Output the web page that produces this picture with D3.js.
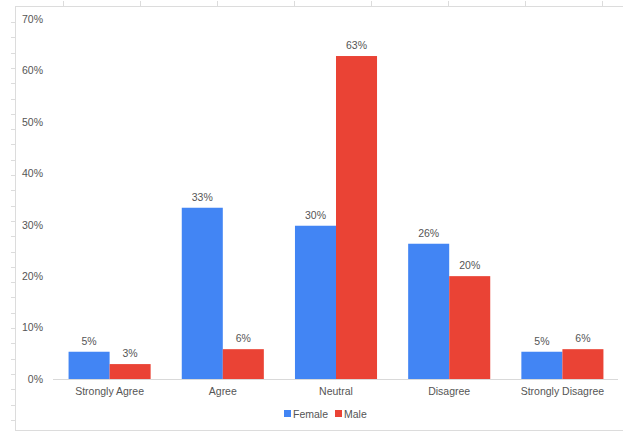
<!DOCTYPE html>
<html>
<head>
<meta charset="utf-8">
<script src="https://cdn.jsdelivr.net/npm/d3@7"></script>
<style>
  html, body { margin: 0; padding: 0; background: #fff; }
  svg { display: block; font-family: "Liberation Sans", Arial, Helvetica, sans-serif; }
</style>
</head>
<body>
<svg id="chart" width="623" height="431"></svg>
<script>
const categories = ["Strongly Agree", "Agree", "Neutral", "Disagree", "Strongly Disagree"];
const seriesNames = ["Female", "Male"];
const femaleValues = [0.053, 0.333, 0.298, 0.263, 0.053];
const maleValues = [0.029, 0.058, 0.628, 0.200, 0.058];
const yTicks = [0, 0.1, 0.2, 0.3, 0.4, 0.5, 0.6, 0.7];
const colors = ["#4285F4", "#EA4335"];

const svg = d3.select("#chart");
const W = 623, H = 431;

// spreadsheet-like frame
const frame = svg.append("g").attr("stroke", "#dcdcdc").attr("fill", "none");
frame.append("line").attr("x1", 15).attr("x2", W).attr("y1", 6.5).attr("y2", 6.5);
frame.append("line").attr("x1", 15.5).attr("x2", 15.5).attr("y1", 6).attr("y2", H);
frame.append("line").attr("x1", 15).attr("x2", W).attr("y1", 430.5).attr("y2", 430.5);
d3.range(63, W, 77).forEach(x => {
  frame.append("line").attr("x1", x + 0.5).attr("x2", x + 0.5).attr("y1", 1).attr("y2", 6);
});
d3.range(22, H, 15.3).forEach(y => {
  frame.append("line").attr("x1", 11).attr("x2", 15).attr("y1", Math.round(y) + 0.5).attr("y2", Math.round(y) + 0.5);
});

const x0 = d3.scaleBand().domain(categories).range([53, 619]).paddingInner(0.275).paddingOuter(0.1375);
const x1 = d3.scaleBand().domain(seriesNames).range([0, x0.bandwidth()]);
const y = d3.scaleLinear().domain([0, 0.7]).range([379, 19]);

// y axis labels
const yAxis = svg.append("g").attr("transform", "translate(43,0)")
  .call(d3.axisLeft(y).tickValues(yTicks).tickFormat(d3.format(".0%")).tickSize(0).tickPadding(0));
yAxis.select(".domain").remove();
yAxis.selectAll("text").attr("fill", "#555").style("font-size", "10.5px")
  .style("font-family", "\"Liberation Sans\", Arial, sans-serif");

// baseline
svg.append("line").attr("x1", 53).attr("x2", 618).attr("y1", y(0) + 0.5).attr("y2", y(0) + 0.5)
  .attr("stroke", "#d9d9d9");

const data = categories.map((c, i) => ({ cat: c, vals: [femaleValues[i], maleValues[i]] }));

const groups = svg.append("g").selectAll("g").data(data).join("g")
  .attr("transform", d => `translate(${x0(d.cat)},0)`);

groups.selectAll("rect").data(d => d.vals.map((v, j) => ({ name: seriesNames[j], v, j })))
  .join("rect")
  .attr("x", d => x1(d.name))
  .attr("width", x1.bandwidth())
  .attr("y", d => y(d.v))
  .attr("height", d => y(0) - y(d.v))
  .attr("fill", d => colors[d.j]);

groups.selectAll("text.val").data(d => d.vals.map((v, j) => ({ name: seriesNames[j], v, j })))
  .join("text").attr("class", "val")
  .attr("x", d => x1(d.name) + x1.bandwidth() / 2)
  .attr("y", d => y(d.v) - 7)
  .attr("text-anchor", "middle")
  .attr("fill", "#555")
  .style("font-size", "10.5px")
  .text(d => d3.format(".0%")(d.v));

// x axis labels
const xAxis = svg.append("g").attr("transform", `translate(0,${y(0)})`)
  .call(d3.axisBottom(x0).tickSize(0).tickPadding(9));
xAxis.select(".domain").remove();
xAxis.selectAll("text").attr("fill", "#555").style("font-size", "10.5px")
  .style("font-family", "\"Liberation Sans\", Arial, sans-serif");

// legend
const legend = svg.append("g").attr("transform", "translate(284,414)");
const items = [{ name: "Female", x: 0 }, { name: "Male", x: 51 }];
items.forEach((it, i) => {
  legend.append("rect").attr("x", it.x).attr("y", -4).attr("width", 7).attr("height", 7).attr("fill", colors[i]);
  legend.append("text").attr("x", it.x + 9).attr("y", 3.5).attr("fill", "#555")
    .style("font-size", "10.5px").text(it.name);
});
</script>
</body>
</html>
